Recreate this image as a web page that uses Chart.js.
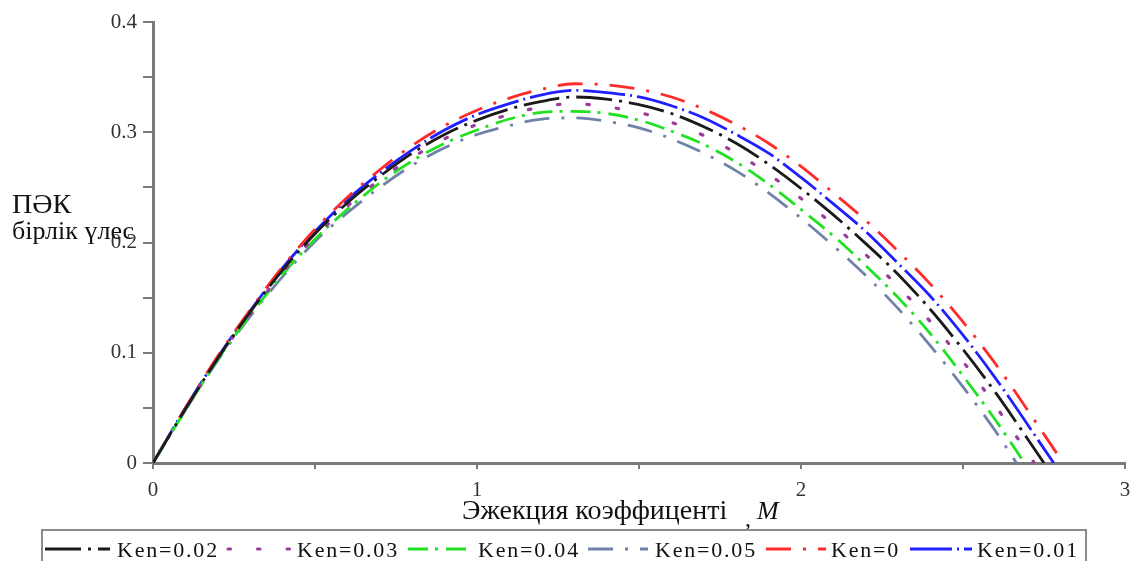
<!DOCTYPE html>
<html lang="kk">
<head>
    <meta charset="UTF-8">
    <title>ПӘК - Эжекция коэффиценті</title>
    <style>
        body { margin: 0; background: #fff; }
        #grafik { display: block; }
    </style>
</head>
<body>
    <canvas id="grafik" width="1131" height="561"></canvas>

    <script src="https://cdn.jsdelivr.net/npm/chart.js"></script>
    <script>

    // M grid (ejection coefficient)
    const M = [0, 0.1, 0.2, 0.3, 0.4, 0.5, 0.6, 0.7, 0.8, 0.9, 1.0, 1.1, 1.2, 1.3,
               1.4, 1.5, 1.6, 1.7, 1.8, 1.9, 2.0, 2.1, 2.2, 2.3, 2.4, 2.5, 2.6];

    const labels = ["Ken=0.02", "Ken=0.03", "Ken=0.04", "Ken=0.05", "Ken=0", "Ken=0.01"];

    // values
    const ken002 = [0, 0.049, 0.095, 0.137, 0.175, 0.208, 0.236, 0.260, 0.281, 0.298, 0.311, 0.321, 0.328, 0.332,
                    0.330, 0.325, 0.317, 0.305, 0.290, 0.271, 0.249, 0.225, 0.199, 0.171, 0.139, 0.103, 0.064];
    const ken003 = [0, 0.049, 0.095, 0.135, 0.173, 0.205, 0.233, 0.257, 0.277, 0.294, 0.307, 0.316, 0.323, 0.326,
                    0.323, 0.318, 0.309, 0.297, 0.281, 0.262, 0.240, 0.216, 0.189, 0.160, 0.128, 0.092, 0.052];
    const ken004 = [0, 0.048, 0.094, 0.134, 0.171, 0.203, 0.230, 0.254, 0.274, 0.290, 0.302, 0.312, 0.318, 0.319,
                    0.317, 0.311, 0.301, 0.289, 0.273, 0.253, 0.230, 0.206, 0.179, 0.150, 0.117, 0.079, 0.039];
    const ken005 = [0, 0.048, 0.093, 0.133, 0.169, 0.201, 0.227, 0.250, 0.270, 0.286, 0.298, 0.306, 0.312, 0.313,
                    0.310, 0.304, 0.294, 0.281, 0.265, 0.245, 0.222, 0.197, 0.170, 0.140, 0.106, 0.069, 0.029];
    const ken000 = [0, 0.050, 0.097, 0.139, 0.178, 0.212, 0.241, 0.266, 0.288, 0.306, 0.320, 0.331, 0.339, 0.344,
                    0.343, 0.339, 0.332, 0.321, 0.307, 0.290, 0.269, 0.245, 0.220, 0.192, 0.162, 0.128, 0.090];
    const ken001 = [0, 0.050, 0.096, 0.138, 0.177, 0.210, 0.239, 0.263, 0.284, 0.302, 0.316, 0.326, 0.334, 0.338,
                    0.336, 0.332, 0.324, 0.313, 0.298, 0.281, 0.259, 0.235, 0.210, 0.181, 0.151, 0.116, 0.077];

    // where each curve comes back to zero
    const roots = [2.75, 2.72, 2.69, 2.665, 2.81, 2.78];

    const xTicks = [0, 1, 2, 3];
    const yTicks = [0, 0.1, 0.2, 0.3, 0.4];

    const seriesValues = [ken002, ken003, ken004, ken005, ken000, ken001];
    const colors = ["#1a1a1a", "#9b3c9b", "#22e022", "#6f82aa", "#ff2a2a", "#1f1fff"];
    const dashes = [[36, 7, 3, 7], [2.5, 27], [20, 7, 3, 8], [25, 12, 3, 12], [25, 12, 3, 12], [42, 5, 2, 5]];

    const datasets = [];
    for (let i = 0; i < seriesValues.length; i++) {
        const pts = [];
        for (let j = 0; j < M.length; j++) {
            pts.push({ x: M[j], y: seriesValues[i][j] });
        }
        pts.push({ x: roots[i], y: 0 });
        datasets.push({
            label: labels[i],
            data: pts,
            borderColor: colors[i],
            backgroundColor: colors[i],
            borderWidth: i == 1 ? 3.2 : 2.8,
            borderDash: dashes[i],
            borderCapStyle: i == 1 ? 'round' : 'butt',
            pointRadius: 0,
            cubicInterpolationMode: 'monotone',
            fill: false
        });
    }

    const serif = "'Liberation Serif', 'DejaVu Serif', serif";

    // axis titles + boxed legend at the bottom
    const extras = {
        id: 'extras',
        afterDraw(chart) {
            const c = chart.ctx;
            c.save();
            c.fillStyle = "#111";
            c.textBaseline = "alphabetic";
            c.textAlign = "left";

            c.font = "28px " + serif;
            c.fillText("ПӘК", 12, 213);
            c.font = "26px " + serif;
            c.fillText("бірлік үлес", 12, 239);

            c.font = "28px " + serif;
            c.fillText("Эжекция коэффиценті", 462, 519);
            c.font = "24px " + serif;
            c.fillText(",", 745, 526);
            c.font = "italic 26px " + serif;
            c.fillText("M", 757, 519);

            // legend box
            c.strokeStyle = "#8a8a8a";
            c.lineWidth = 2;
            c.strokeRect(42, 530, 1044, 40);

            const samples = [[45, 110, 117], [228, 290, 297], [408, 468, 478],
                             [588, 648, 655], [766, 826, 831], [910, 972, 977]];
            c.font = "22px " + serif;
            c.letterSpacing = "1.8px";
            for (let i = 0; i < samples.length; i++) {
                const ds = chart.data.datasets[i];
                c.strokeStyle = ds.borderColor;
                c.lineWidth = ds.borderWidth;
                c.lineCap = ds.borderCapStyle;
                c.setLineDash(ds.borderDash);
                c.beginPath();
                c.moveTo(samples[i][0], 549);
                c.lineTo(samples[i][1], 549);
                c.stroke();
                c.setLineDash([]);
                c.fillStyle = "#111";
                c.fillText(ds.label, samples[i][2], 557);
            }
            c.restore();
        }
    };

    new Chart(document.getElementById('grafik'), {
        type: 'line',
        data: { datasets: datasets },
        options: {
            responsive: false,
            animation: false,
            layout: { padding: { top: 22, right: 6, left: 0, bottom: 0 } },
            plugins: {
                legend: { display: false },
                tooltip: { enabled: false }
            },
            scales: {
                x: {
                    type: 'linear',
                    min: 0,
                    max: 3,
                    afterFit(scale) {
                        scale.height = 98;
                        scale.paddingRight = 0;
                        scale.paddingLeft = 0;
                    },
                    border: { color: "#7a7a7a", width: 3 },
                    grid: { drawOnChartArea: false, drawTicks: true, tickLength: 6, color: "#7a7a7a", lineWidth: 2 },
                    ticks: {
                        stepSize: 0.5,
                        padding: 9,
                        maxRotation: 0,
                        color: "#333",
                        font: { family: serif, size: 21 },
                        callback: function(v) { return xTicks.includes(v) ? String(v) : ''; }
                    }
                },
                y: {
                    min: 0,
                    max: 0.4,
                    afterFit(scale) { scale.width = 153; },
                    border: { color: "#7a7a7a", width: 3 },
                    grid: { drawOnChartArea: false, drawTicks: true, tickLength: 10, color: "#7a7a7a", lineWidth: 2 },
                    ticks: {
                        stepSize: 0.05,
                        padding: 6,
                        color: "#333",
                        font: { family: serif, size: 21 },
                        callback: function(v) {
                            const r = Math.round(v * 100) / 100;
                            return yTicks.includes(r) ? String(r) : '';
                        }
                    }
                }
            }
        },
        plugins: [extras]
    });
    </script>
</body>
</html>
